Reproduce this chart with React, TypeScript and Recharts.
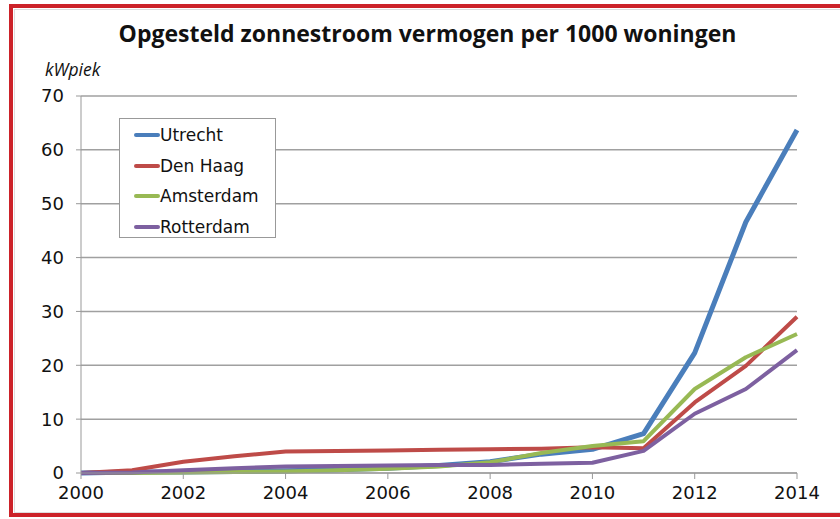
import React from "react";
import { LineChart, Line, XAxis, YAxis, CartesianGrid } from "recharts";

const years = [2000, 2001, 2002, 2003, 2004, 2005, 2006, 2007, 2008, 2009, 2010, 2011, 2012, 2013, 2014];
const utrecht = [0, 0.2, 0.2, 0.3, 0.4, 0.6, 0.9, 1.4, 2.1, 3.5, 4.4, 7.3, 22.3, 46.6, 63.7];
const denHaag = [0, 0.5, 2.1, 3.1, 4.0, 4.1, 4.2, 4.3, 4.4, 4.5, 4.8, 4.6, 13.1, 19.9, 29.0];
const amsterdam = [0, 0, 0.1, 0.2, 0.3, 0.5, 0.8, 1.2, 2.0, 3.7, 5.0, 5.9, 15.6, 21.5, 25.8];
const rotterdam = [0, 0.1, 0.5, 0.9, 1.2, 1.3, 1.4, 1.5, 1.5, 1.7, 1.9, 4.1, 11.0, 15.6, 22.8];

const xTicks = [2000, 2002, 2004, 2006, 2008, 2010, 2012, 2014];
const yTicks = [0, 10, 20, 30, 40, 50, 60, 70];

const series = [
  { key: "Utrecht", values: utrecht, color: "#4a7ebb", width: 5 },
  { key: "Den Haag", values: denHaag, color: "#be4b48", width: 4 },
  { key: "Amsterdam", values: amsterdam, color: "#98b954", width: 4 },
  { key: "Rotterdam", values: rotterdam, color: "#7d60a0", width: 4 },
];

const data = years.map((year, i) => {
  const row: Record<string, number> = { year };
  series.forEach((s) => {
    row[s.key] = s.values[i];
  });
  return row;
});

const font = "'DejaVu Sans', Verdana, sans-serif";

// legend drawn as plain html so it doesn't eat into the plot area
const LegendBox = () => (
  <div
    style={{
      position: "absolute",
      left: 119,
      top: 118,
      width: 157,
      height: 120,
      border: "1px solid #999",
      background: "#fff",
      paddingTop: 1,
      boxSizing: "border-box",
    }}
  >
    {series.map((s) => (
      <div
        key={s.key}
        style={{
          display: "flex",
          alignItems: "center",
          height: 30.5,
          fontFamily: font,
          fontSize: 17,
          color: "#111",
        }}
      >
        <span
          style={{
            display: "inline-block",
            width: 26,
            height: 4,
            borderRadius: 2,
            background: s.color,
            marginLeft: 14,
          }}
        />
        <span>{s.key}</span>
      </div>
    ))}
  </div>
);

export default function App() {
  return (
    <div
      style={{
        position: "absolute",
        left: 0,
        top: 0,
        width: 840,
        height: 519,
        overflow: "hidden",
        background: "#fff",
      }}
    >
      <div
        style={{
          position: "absolute",
          left: 9,
          top: 4,
          width: 860,
          height: 505,
          border: "4px solid #cc2229",
        }}
      />
      <div
        style={{
          position: "absolute",
          left: 14,
          top: 9,
          width: 860,
          height: 502,
          border: "1px solid #ddd",
        }}
      />
      <div
        style={{
          position: "absolute",
          left: 0,
          top: 17,
          width: 855,
          textAlign: "center",
          fontFamily: "'Open Sans', sans-serif",
          fontWeight: 700,
          fontSize: 23,
          color: "#111",
        }}
      >
        Opgesteld zonnestroom vermogen per 1000 woningen
      </div>
      <div
        style={{
          position: "absolute",
          left: 45,
          top: 57,
          fontFamily: "'Open Sans', sans-serif",
          fontStyle: "italic",
          fontSize: 17.5,
          color: "#111",
        }}
      >
        kWpiek
      </div>
      <div style={{ position: "absolute", left: 0, top: 0 }}>
        <LineChart
          width={840}
          height={519}
          data={data}
          margin={{ top: 96, right: 43, bottom: 16, left: 0 }}
        >
          <CartesianGrid vertical={false} stroke="#a0a0a0" strokeWidth={1.5} />
          <XAxis
            dataKey="year"
            type="number"
            domain={[2000, 2014]}
            ticks={xTicks}
            height={30}
            stroke="#999"
            tickSize={6}
            tickMargin={7}
            tick={{ fill: "#111", fontSize: 18, fontFamily: font }}
          />
          <YAxis
            type="number"
            domain={[0, 70]}
            ticks={yTicks}
            width={81}
            stroke="#999"
            tickSize={5}
            tickMargin={12}
            tick={{ fill: "#111", fontSize: 18, fontFamily: font }}
          />
          {series.map((s) => (
            <Line
              key={s.key}
              type="linear"
              dataKey={s.key}
              stroke={s.color}
              strokeWidth={s.width}
              strokeLinejoin="round"
              dot={false}
              isAnimationActive={false}
            />
          ))}
        </LineChart>
      </div>
      <LegendBox />
    </div>
  );
}
